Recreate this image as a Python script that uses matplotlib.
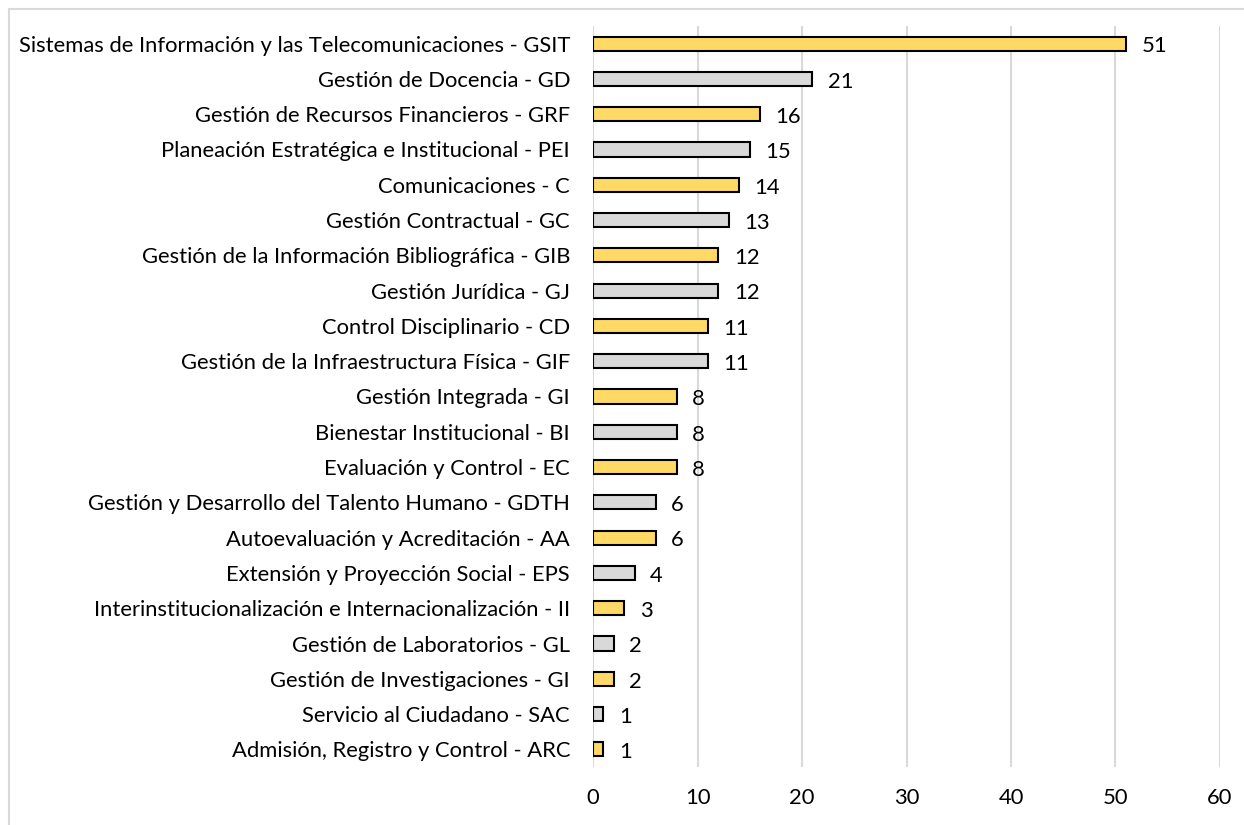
import matplotlib.pyplot as plt
from matplotlib.patches import Rectangle

# categories from top to bottom
procesos = [
    'Sistemas de Información y las Telecomunicaciones - GSIT',
    'Gestión de Docencia - GD',
    'Gestión de Recursos Financieros - GRF',
    'Planeación Estratégica e Institucional - PEI',
    'Comunicaciones - C',
    'Gestión Contractual - GC',
    'Gestión de la Información Bibliográfica - GIB',
    'Gestión Jurídica - GJ',
    'Control Disciplinario - CD',
    'Gestión de la Infraestructura Física - GIF',
    'Gestión Integrada - GI',
    'Bienestar Institucional - BI',
    'Evaluación y Control - EC',
    'Gestión y Desarrollo del Talento Humano - GDTH',
    'Autoevaluación y Acreditación - AA',
    'Extensión y Proyección Social - EPS',
    'Interinstitucionalización e Internacionalización - II',
    'Gestión de Laboratorios - GL',
    'Gestión de Investigaciones - GI',
    'Servicio al Ciudadano - SAC',
    'Admisión, Registro y Control - ARC',
]
cantidad = [51, 21, 16, 15, 14, 13, 12, 12, 11, 11, 8, 8, 8, 6, 6, 4, 3, 2, 2, 1, 1]
x_ticks = [0, 10, 20, 30, 40, 50, 60]

plt.rcParams['font.family'] = ['Lato', 'DejaVu Sans']

fig = plt.figure(figsize=(12.44, 8.25), dpi=100)
ax = fig.add_axes([0.4767, 0.0703, 0.504, 0.8982])

# outer chart border (light gray)
fig.add_artist(Rectangle((9 / 1244, -0.2), 1.2, 1.2 - 9 / 825,
                         transform=fig.transFigure, fill=False,
                         edgecolor='#d9d9d9', linewidth=1.5))

y = list(range(len(procesos)))
colores = ['#ffd966' if i % 2 == 0 else '#d9d9d9' for i in y]
ax.barh(y, cantidad, height=0.4, color=colores, edgecolor='black',
        linewidth=1.5, zorder=3)

for yi, v in zip(y, cantidad):
    ax.annotate(str(v), (v, yi), xytext=(11, -2), textcoords='offset points',
                ha='left', va='center', fontsize=15.8, color='black')

ax.set_yticks(y)
ax.set_yticklabels(procesos, fontsize=15.8)
ax.set_xticks(x_ticks)
ax.set_xticklabels([str(t) for t in x_ticks], fontsize=15.8)
ax.set_xlim(0, 60)
ax.set_ylim(20.5, -0.5)
ax.tick_params(length=0)
ax.tick_params(axis='y', pad=16.5)
ax.tick_params(axis='x', pad=15)
ax.xaxis.grid(True, color='#d9d9d9', linewidth=1.5, zorder=0)
for s in ax.spines.values():
    s.set_visible(False)

fig.savefig('out.png', dpi=100)
